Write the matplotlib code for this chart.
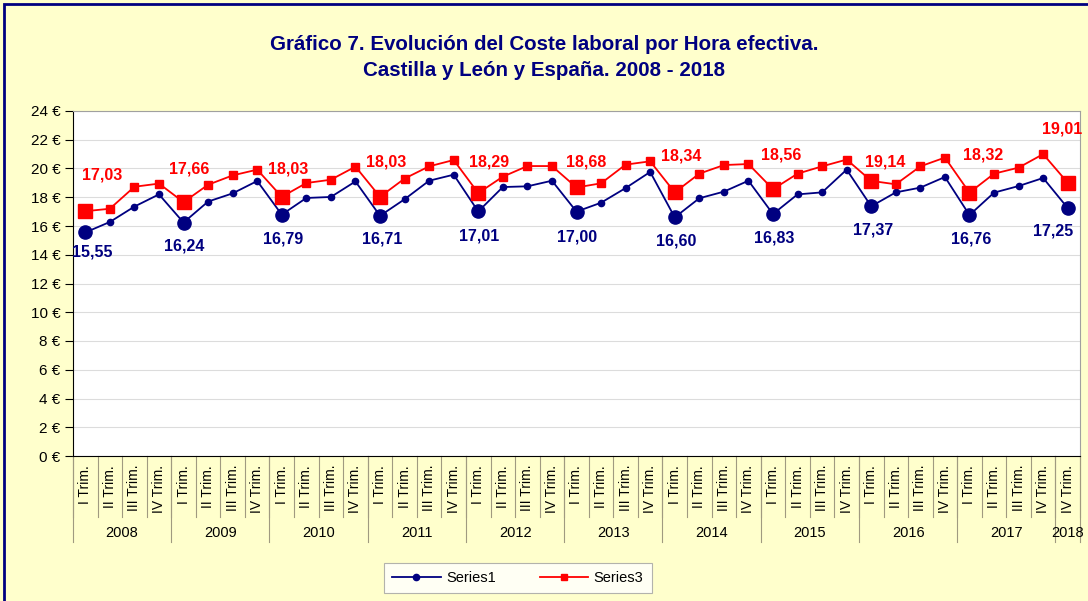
import matplotlib
matplotlib.use("Agg")
import matplotlib.pyplot as plt
from matplotlib.patches import Rectangle
import matplotlib.transforms as mtransforms

plt.rcParams['font.family'] = ['Liberation Sans', 'DejaVu Sans']

# data
quarters = ["I Trim.", "II Trim.", "III Trim.", "IV Trim."] * 10 + ["IV Trim."]
years = [2008, 2009, 2010, 2011, 2012, 2013, 2014, 2015, 2016, 2017, 2018]
series1 = [15.55, 16.28, 17.35, 18.20, 16.24, 17.70, 18.27, 19.13, 16.79, 17.95,
           18.02, 19.10, 16.71, 17.86, 19.15, 19.57, 17.01, 18.71, 18.76, 19.15,
           17.00, 17.62, 18.64, 19.76, 16.60, 17.93, 18.39, 19.15, 16.83, 18.20,
           18.34, 19.92, 17.37, 18.34, 18.67, 19.41, 16.76, 18.32, 18.78, 19.34,
           17.25]
series3 = [17.03, 17.20, 18.73, 18.95, 17.66, 18.87, 19.52, 19.92, 18.03, 18.99,
           19.22, 20.13, 18.03, 19.30, 20.15, 20.59, 18.29, 19.43, 20.17, 20.17,
           18.68, 18.97, 20.27, 20.50, 18.34, 19.64, 20.24, 20.31, 18.56, 19.64,
           20.15, 20.62, 19.14, 18.90, 20.15, 20.76, 18.32, 19.64, 20.06, 21.00,
           19.01]
year_sizes = [4] * 10 + [1]

# label offsets in pixels (layout only)
red_off = [(17, 36), (6, 33), (6, 28), (6, 35), (11, 31), (10, 25), (6, 36),
           (8, 34), (14, 19), (14, 38), (-6, 54)]
blue_off = [(7, -20), (1, -23), (1, -24), (2, -23), (1, -25), (1, -25), (1, -24),
            (1, -24), (2, -24), (2, -24), (-15, -23)]

navy = '#000080'
red = '#FF0000'
bg = '#FFFFCC'

fig = plt.figure(figsize=(10.88, 6.01), dpi=100, facecolor=bg)
ax = fig.add_axes([73/1088, 1-456/601, (1080-73)/1088, 345/601])
ax.set_facecolor('white')

x = list(range(len(series1)))
q1 = [i for i in x if i % 4 == 0]

ax.plot(x, series1, color=navy, lw=1.3, marker='o', ms=4.5, zorder=3)
ax.plot(q1, [series1[i] for i in q1], ls='none', marker='o', ms=9.5, color=navy, zorder=4)
ax.plot(x, series3, color=red, lw=1.3, marker='s', ms=5.5, zorder=3)
ax.plot(q1, [series3[i] for i in q1], ls='none', marker='s', ms=9.5, color=red, zorder=4)

for k, i in enumerate(q1):
    ax.annotate(f"{series3[i]:.2f}".replace('.', ','), (i, series3[i]),
                xytext=red_off[k], textcoords='offset pixels', ha='center', va='center',
                color=red, fontsize=11.5, fontweight='bold', zorder=5)
    ax.annotate(f"{series1[i]:.2f}".replace('.', ','), (i, series1[i]),
                xytext=blue_off[k], textcoords='offset pixels', ha='center', va='center',
                color=navy, fontsize=11.5, fontweight='bold', zorder=5)

ax.set_xlim(-0.5, len(x) - 0.5)
ax.set_ylim(0, 24)
ax.set_yticks(range(0, 25, 2))
ax.set_yticklabels([f"{v} €" for v in range(0, 25, 2)], fontsize=11)
ax.yaxis.grid(True, color='#DCDCDC', lw=0.8)
ax.set_axisbelow(True)
ax.tick_params(axis='y', length=6, color='black', direction='out', pad=3)
ax.set_xticks([])
for s in ['top', 'right']:
    ax.spines[s].set_color('#A0A0A0')
ax.spines['left'].set_color('black')
ax.spines['bottom'].set_color('black')

# two level category axis
tr = mtransforms.blended_transform_factory(ax.transData, ax.transAxes)
sep_col = '#A09A80'
for i, q in enumerate(quarters):
    ax.text(i, -0.026, q, rotation=90, ha='center', va='top', fontsize=10,
            transform=tr, clip_on=False)
    ax.plot([i - 0.5, i - 0.5], [0, -0.177], transform=tr, color=sep_col, lw=0.8, clip_on=False)
ax.plot([len(x) - 0.5] * 2, [0, -0.177], transform=tr, color=sep_col, lw=0.8, clip_on=False)

start = 0
for y, n in zip(years, year_sizes):
    ax.plot([start - 0.5] * 2, [0, -0.249], transform=tr, color=sep_col, lw=0.8, clip_on=False)
    ax.text(start + (n - 1) / 2, -0.222, str(y), ha='center', va='center', fontsize=10.5,
            transform=tr, clip_on=False)
    start += n
ax.plot([start - 0.5] * 2, [0, -0.249], transform=tr, color=sep_col, lw=0.8, clip_on=False)

fig.text(544/1088, 1-45/601, "Gráfico 7. Evolución del Coste laboral por Hora efectiva.",
         ha='center', va='center', fontsize=14.8, fontweight='bold', color=navy)
fig.text(544/1088, 1-70/601, "Castilla y León y España. 2008 - 2018",
         ha='center', va='center', fontsize=14.8, fontweight='bold', color=navy)

h1, = ax.plot([], [], color=navy, lw=1.3, marker='o', ms=4.5, label='Series1')
h3, = ax.plot([], [], color=red, lw=1.3, marker='s', ms=5, label='Series3')
leg = fig.legend(handles=[h1, h3], loc='center', bbox_to_anchor=(518/1088, 1-578/601),
                 ncol=2, fontsize=10.5, frameon=True, fancybox=False, edgecolor='#A0A0A0',
                 handlelength=3.3, handletextpad=0.4, columnspacing=3.0, borderpad=0.55)
leg.get_frame().set_linewidth(0.8)

fig.patches.append(Rectangle((4/1088, -0.05), 1.1, 1 - 4/601 + 0.05, transform=fig.transFigure,
                             fill=False, edgecolor=navy, lw=2))

fig.savefig("out.png", dpi=100, facecolor=bg)
